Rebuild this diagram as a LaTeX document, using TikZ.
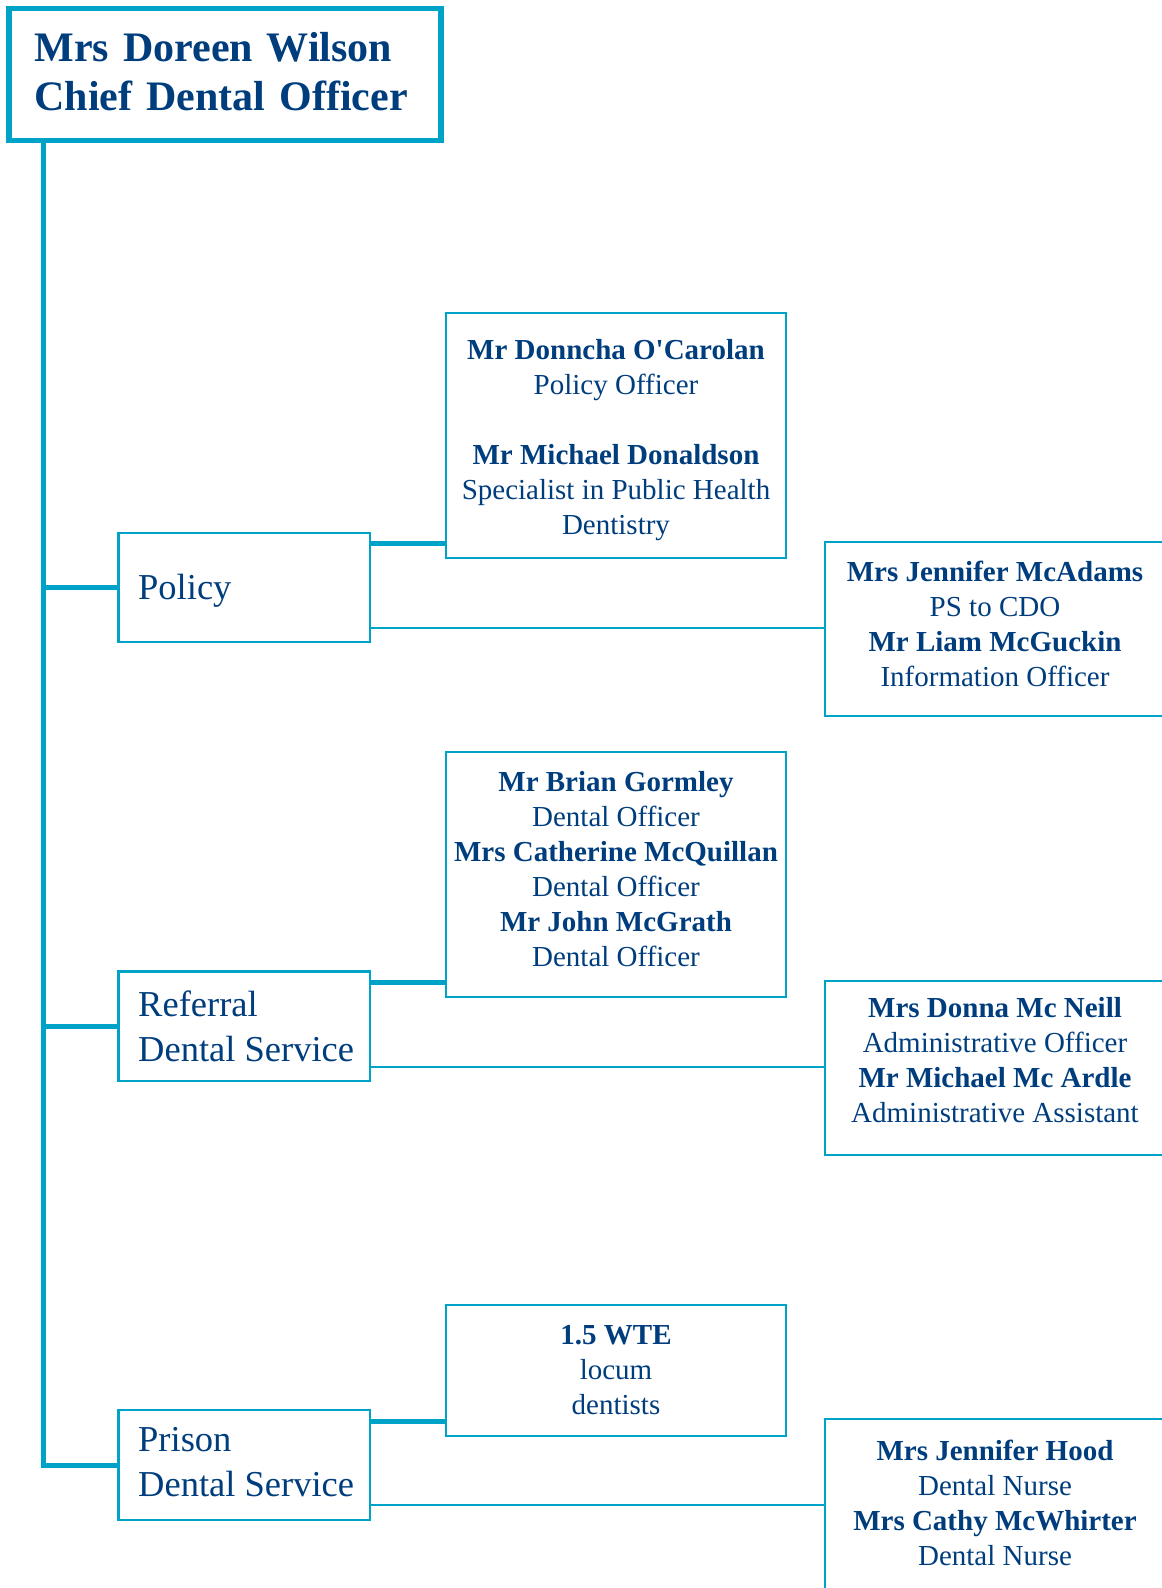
\documentclass[tikz,border=0pt]{standalone}
\usepackage{fontspec}
\setmainfont{Liberation Serif}
\definecolor{bord}{RGB}{0,163,200}
\definecolor{ink}{RGB}{0,61,125}
\begin{document}
\begin{tikzpicture}[x=1pt,y=-1pt,
  headbox/.style={draw=bord, line width=5.5pt, outer sep=0pt, rectangle, minimum width=432pt, minimum height=132pt},
  headtext/.style={inner sep=0pt, text width=381pt, align=left, text=ink, font=\fontsize{42}{49.5}\selectfont\bfseries},
  unitbox/.style={draw=bord, line width=2.5pt, outer sep=0pt, rectangle, minimum width=251.5pt},
  unittext/.style={inner sep=0pt, anchor=west, align=left, text=ink, font=\fontsize{36.5}{45}\selectfont},
  staffbox/.style={draw=bord, line width=2.5pt, outer sep=0pt, rectangle, minimum width=340pt},
  stafftext/.style={inner sep=0pt, align=center, text=ink, font=\fontsize{29}{35}\selectfont},
  trunkline/.style={draw=bord, line width=5pt},
  thickline/.style={draw=bord, line width=5pt},
  thinline/.style={draw=bord, line width=2.5pt},
]
\useasboundingbox (0,0) rectangle (1162,1588);
\clip (0,0) rectangle (1162,1588);

% head
\node[headbox] (cdo) at (225,74.5) {};
\node[headtext, anchor=west] (cdotext) at ([xshift=25.3pt,yshift=3pt]cdo.west) {Mrs Doreen Wilson\\Chief Dental Officer};

% units
\node[unitbox, minimum height=109pt] (policy) at (244.25,587.5) {};
\node[unittext] (policytext) at ([xshift=19.5pt,yshift=-3pt]policy.west) {Policy};
\node[unitbox, minimum height=109.5pt] (referral) at (244.25,1026.25) {};
\node[unittext] (referraltext) at ([xshift=19.5pt]referral.west) {Referral\\\mbox{Dental Service}};
\node[unitbox, minimum height=110pt] (prison) at (244.25,1465) {};
\node[unittext] (prisontext) at ([xshift=19.5pt,yshift=2.5pt]prison.west) {Prison\\\mbox{Dental Service}};

% staff boxes, middle column
\node[staffbox, minimum height=245pt] (ocarolan) at (616,435.5) {};
\node[stafftext] (ocarolantext) at ([yshift=-5pt]ocarolan.center) {\textbf{Mr Donncha O\textquotesingle Carolan}\\Policy Officer\\[35pt]\textbf{Mr Michael Donaldson}\\Specialist in Public Health\\Dentistry};
\node[staffbox, minimum height=245pt] (gormley) at (616,874.5) {};
\node[stafftext] (gormleytext) at ([yshift=5pt]gormley.center) {\textbf{Mr Brian Gormley}\\Dental Officer\\\textbf{Mrs Catherine McQuillan}\\Dental Officer\\\textbf{Mr John McGrath}\\Dental Officer};
\node[staffbox, minimum height=131pt] (wte) at (616,1370.5) {};
\node[stafftext] (wtetext) at (wte.center) {\textbf{1.5 WTE}\\locum\\dentists};

% staff boxes, right column
\node[staffbox, minimum height=174pt] (mcadams) at (995,629) {};
\node[stafftext] (mcadamstext) at ([yshift=5pt]mcadams.center) {\textbf{Mrs Jennifer McAdams}\\PS to CDO\\\textbf{Mr Liam McGuckin}\\Information Officer};
\node[staffbox, minimum height=174pt] (mcneill) at (995,1068) {};
\node[stafftext] (mcneilltext) at ([yshift=8pt]mcneill.center) {\textbf{Mrs Donna Mc Neill}\\Administrative Officer\\\textbf{Mr Michael Mc Ardle}\\Administrative Assistant};
\node[staffbox, minimum height=174pt] (hood) at (995,1506) {};
\node[stafftext] (hoodtext) at ([yshift=3pt]hood.center) {\textbf{Mrs Jennifer Hood}\\Dental Nurse\\\textbf{Mrs Cathy McWhirter}\\Dental Nurse};

% connectors
\coordinate (trunk) at ([xshift=34.5pt]cdo.south west);
\draw[trunkline] (trunk) -- (trunk |- prison.west) -- (prison.west);
\draw[trunkline] (trunk |- policy.west) -- (policy.west);
\draw[trunkline] (trunk |- referral.west) -- (referral.west);

\draw[thickline] ([yshift=-10pt]policy.north east) -- ([yshift=-10pt]policy.north east -| ocarolan.west);
\draw[thinline] ([yshift=14pt]policy.south east) -- ([yshift=14pt]policy.south east -| mcadams.west);
\draw[thickline] ([yshift=-10.5pt]referral.north east) -- ([yshift=-10.5pt]referral.north east -| gormley.west);
\draw[thinline] ([yshift=14pt]referral.south east) -- ([yshift=14pt]referral.south east -| mcneill.west);
\draw[thickline] ([yshift=-11pt]prison.north east) -- ([yshift=-11pt]prison.north east -| wte.west);
\draw[thinline] ([yshift=15pt]prison.south east) -- ([yshift=15pt]prison.south east -| hood.west);
\end{tikzpicture}
\end{document}
